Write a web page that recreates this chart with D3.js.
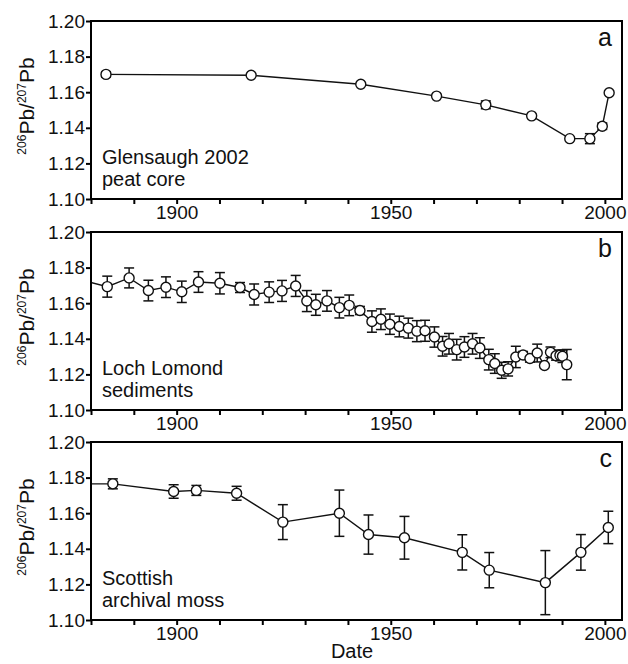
<!DOCTYPE html>
<html>
<head>
<meta charset="UTF-8">
<style>
  body { margin: 0; background: #fff; }
  svg { display: block; font-family: "Liberation Sans", Arial, sans-serif; }
</style>
</head>
<body>
<svg></svg>
<script src="https://d3js.org/d3.v7.min.js"></script>
<script>

// panel a - Glensaugh 2002 peat core
let yearsA = [1883.5, 1917.4, 1943.0, 1960.7, 1972.2, 1982.9, 1991.8, 1996.5, 1999.4, 2001.0];
let ratioA = [1.1700, 1.1695, 1.1645, 1.1578, 1.1529, 1.1467, 1.1339, 1.1339, 1.1409, 1.1597];
let errA   = [0.0015, 0, 0, 0, 0.0022, 0, 0, 0.0028, 0.0018, 0];

// panel b - Loch Lomond sediments (first value lies left of the axis, only the line shows)
let yearsB = [1877.0, 1883.8, 1888.9, 1893.4, 1897.5, 1901.2, 1905.1, 1910.1, 1914.8, 1918.1, 1921.6,
              1924.6, 1927.8, 1930.4, 1932.5, 1935.1, 1938.0, 1940.3, 1942.8, 1945.6, 1947.7,
              1949.8, 1952.0, 1954.1, 1956.1, 1958.0, 1960.2, 1962.1, 1963.6, 1965.4, 1967.2,
              1969.1, 1970.8, 1972.9, 1974.3, 1975.9, 1977.4, 1979.2, 1980.9, 1982.5, 1984.2,
              1985.9, 1987.3, 1988.6, 1989.5, 1990.1, 1991.1];
let ratioB = [1.1735, 1.1693, 1.1742, 1.1671, 1.1690, 1.1664, 1.1719, 1.1712, 1.1688, 1.1649, 1.1662,
              1.1669, 1.1697, 1.1612, 1.1591, 1.1613, 1.1575, 1.1588, 1.1559, 1.1497, 1.1510,
              1.1482, 1.1469, 1.1460, 1.1443, 1.1445, 1.1410, 1.1358, 1.1372, 1.1339, 1.1354,
              1.1372, 1.1348, 1.1283, 1.1261, 1.1223, 1.1231, 1.1298, 1.1309, 1.1289, 1.1320,
              1.1250, 1.1324, 1.1305, 1.1307, 1.1302, 1.1255];
let errB   = [0, 0.0059, 0.0056, 0.0058, 0.0058, 0.0060, 0.0058, 0.0060, 0.0028, 0.0059, 0.0058,
              0.0059, 0.0059, 0.0059, 0.0059, 0.0058, 0.0058, 0.0058, 0.0023, 0.0060, 0.0058,
              0.0057, 0.0058, 0.0056, 0.0059, 0.0059, 0.0057, 0.0055, 0.0058, 0.0058, 0.0058,
              0.0058, 0.0058, 0.0058, 0.0055, 0.0045, 0.0040, 0.0060, 0.0020, 0.0020, 0.0050,
              0, 0.0030, 0.0025, 0.0030, 0.0035, 0.0085];

// panel c - Scottish archival moss (first value lies left of the axis)
let yearsC = [1872.0, 1885.1, 1899.3, 1904.6, 1914.0, 1924.8, 1938.0, 1944.8, 1953.2, 1966.7, 1973.0, 1986.1, 1994.4, 2000.8];
let ratioC = [1.1765, 1.1765, 1.1722, 1.1728, 1.1712, 1.1550, 1.1600, 1.1480, 1.1462, 1.1380, 1.1280, 1.1210, 1.1380, 1.1520];
let errC   = [0, 0.0028, 0.0038, 0.0028, 0.0039, 0.0098, 0.0130, 0.0110, 0.0120, 0.0099, 0.0099, 0.0180, 0.0100, 0.0091];

let yTicks = [1.10, 1.12, 1.14, 1.16, 1.18, 1.20];
let xTicks = d3.range(1880, 2001, 10);
let xLabelled = [1900, 1950, 2000];

let panels = [
  {id: "a", years: yearsA, ratio: ratioA, err: errA, note: ["Glensaugh 2002", "peat core"], top: 21},
  {id: "b", years: yearsB, ratio: ratioB, err: errB, note: ["Loch Lomond", "sediments"], top: 232},
  {id: "c", years: yearsC, ratio: ratioC, err: errC, note: ["Scottish", "archival moss"], top: 442}
];

let width = 628,
    height = 664,
    left = 91,
    right = 622,
    ph = 178;

let svg = d3.select("svg")
    .attr("width", width)
    .attr("height", height);

let x = d3.scaleLinear().domain([1880, 2004]).range([left, right]);

panels.forEach(p => {
  let y = d3.scaleLinear().domain([1.10, 1.20]).range([p.top + ph, p.top]);
  let pts = p.years.map((yr, i) => ({yr: yr, v: p.ratio[i], e: p.err[i]}));

  let g = svg.append("g").attr("id", "panel-" + p.id);

  g.append("clipPath").attr("id", "clip-" + p.id)
    .append("rect")
    .attr("x", left).attr("y", p.top)
    .attr("width", right - left).attr("height", ph);

  let plot = g.append("g").attr("clip-path", "url(#clip-" + p.id + ")");

  plot.append("path")
    .datum(pts)
    .attr("fill", "none")
    .attr("stroke", "#111")
    .attr("stroke-width", 1.4)
    .attr("d", d3.line().x(d => x(d.yr)).y(d => y(d.v)));

  let bars = plot.append("g")
    .selectAll("g")
    .data(pts.filter(d => d.e > 0))
    .enter()
    .append("g")
    .attr("stroke", "#111")
    .attr("stroke-width", 1.5);

  bars.append("line")
    .attr("x1", d => x(d.yr)).attr("x2", d => x(d.yr))
    .attr("y1", d => y(d.v - d.e)).attr("y2", d => y(d.v + d.e));
  bars.append("line")
    .attr("x1", d => x(d.yr) - 5).attr("x2", d => x(d.yr) + 5)
    .attr("y1", d => y(d.v - d.e)).attr("y2", d => y(d.v - d.e));
  bars.append("line")
    .attr("x1", d => x(d.yr) - 5).attr("x2", d => x(d.yr) + 5)
    .attr("y1", d => y(d.v + d.e)).attr("y2", d => y(d.v + d.e));

  plot.append("g")
    .selectAll("circle")
    .data(pts)
    .enter()
    .append("circle")
    .attr("cx", d => x(d.yr))
    .attr("cy", d => y(d.v))
    .attr("r", 5)
    .attr("fill", "#fff")
    .attr("stroke", "#111")
    .attr("stroke-width", 1.4);

  // axes
  let ya = g.append("g")
    .attr("transform", "translate(" + left + ",0)")
    .call(d3.axisLeft(y).tickValues(yTicks).tickFormat(d3.format(".2f")).tickSize(5).tickPadding(1));
  let xa = g.append("g")
    .attr("transform", "translate(0," + (p.top + ph) + ")")
    .call(d3.axisBottom(x).tickValues(xTicks)
      .tickFormat(d => xLabelled.includes(d) ? d : "").tickSize(5).tickPadding(2));
  [ya, xa].forEach(a => {
    a.select(".domain").remove();
    a.selectAll("line").attr("stroke", "#000").attr("stroke-width", 2);
    a.selectAll("text").attr("font-size", 19).attr("fill", "#111");
  });

  g.append("rect")
    .attr("x", left).attr("y", p.top)
    .attr("width", right - left).attr("height", ph)
    .attr("fill", "none")
    .attr("stroke", "#000")
    .attr("stroke-width", 2);

  // panel letter
  g.append("text")
    .attr("x", 612).attr("y", p.top + 25)
    .attr("text-anchor", "end")
    .attr("font-size", 25)
    .attr("fill", "#111")
    .text(p.id);

  // site note
  g.append("text")
    .attr("font-size", 20)
    .attr("fill", "#111")
    .selectAll("tspan")
    .data(p.note)
    .enter()
    .append("tspan")
    .attr("x", 102)
    .attr("y", (d, i) => p.top + ph - 35 + i * 22)
    .text(d => d);

  // y label 206Pb/207Pb
  let lab = g.append("text")
    .attr("transform", "translate(34," + (p.top + ph / 2 - 4) + ") rotate(-90)")
    .attr("text-anchor", "middle")
    .attr("font-size", 21)
    .attr("fill", "#111");
  lab.append("tspan").attr("font-size", 12).attr("dy", -8).text("206");
  lab.append("tspan").attr("dy", 8).text("Pb/");
  lab.append("tspan").attr("font-size", 12).attr("dy", -8).text("207");
  lab.append("tspan").attr("dy", 8).text("Pb");
});

svg.append("text")
  .attr("x", 352)
  .attr("y", 658)
  .attr("text-anchor", "middle")
  .attr("font-size", 20)
  .attr("fill", "#111")
  .text("Date");

</script>
</body>
</html>
